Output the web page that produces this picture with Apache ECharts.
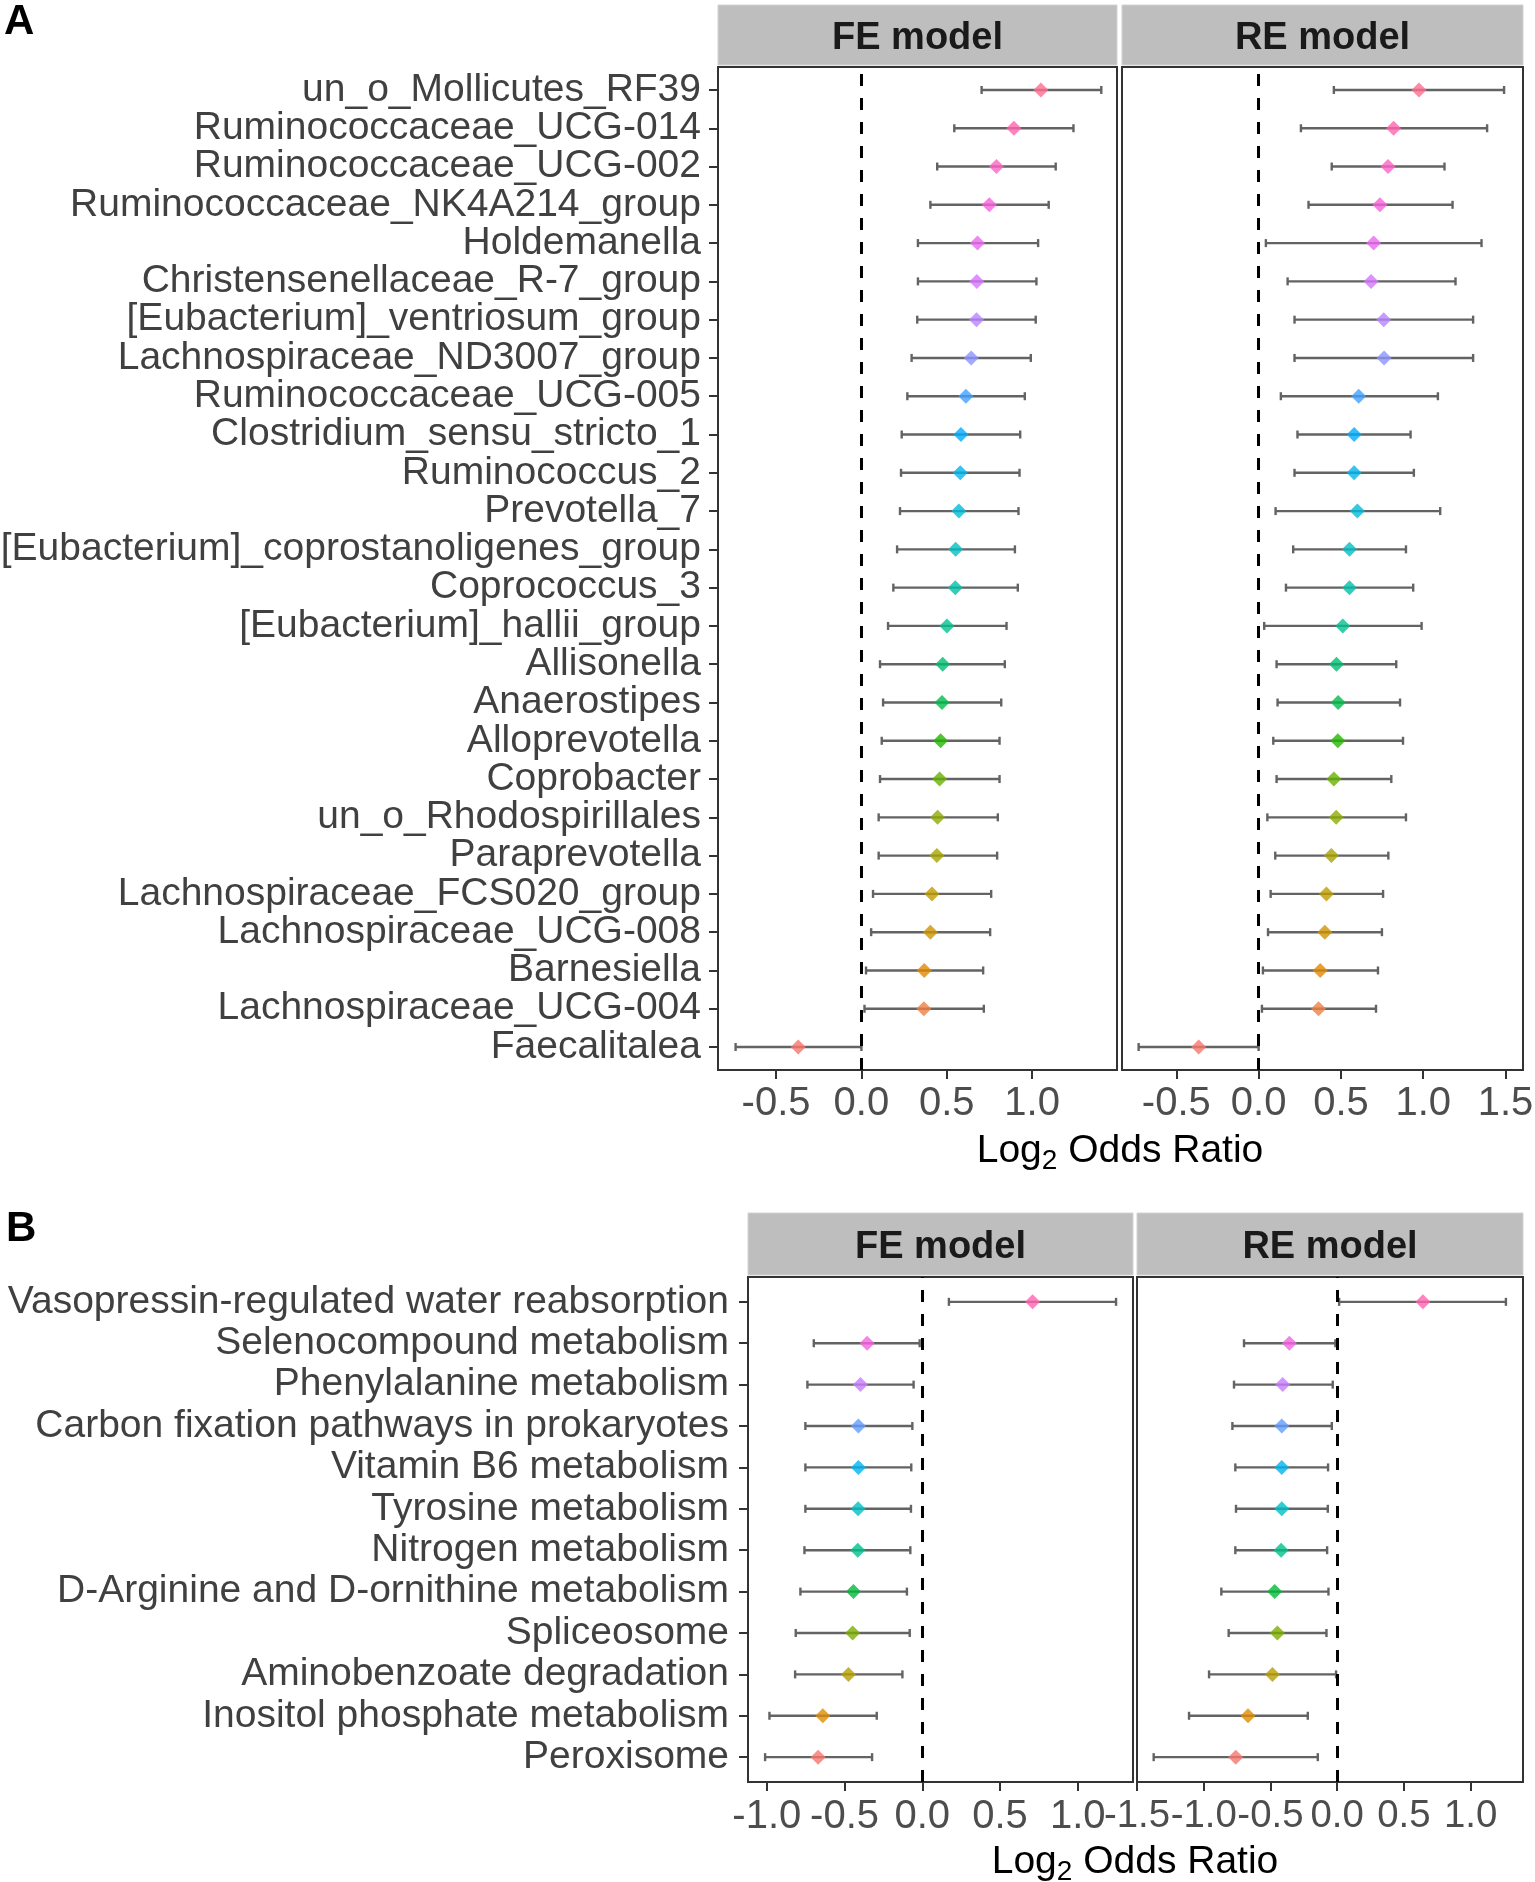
<!DOCTYPE html>
<html>
<head>
<meta charset="utf-8">
<script src="https://cdn.jsdelivr.net/npm/echarts@6/dist/echarts.min.js"></script>
<style>
html,body{margin:0;padding:0;background:#fff;}
#chart{width:1535px;height:1882px;}
</style>
</head>
<body>
<div id="chart"></div>
<script>
// ---------------- DATA ----------------
const taxaA = ["un_o_Mollicutes_RF39","Ruminococcaceae_UCG-014","Ruminococcaceae_UCG-002","Ruminococcaceae_NK4A214_group","Holdemanella","Christensenellaceae_R-7_group","[Eubacterium]_ventriosum_group","Lachnospiraceae_ND3007_group","Ruminococcaceae_UCG-005","Clostridium_sensu_stricto_1","Ruminococcus_2","Prevotella_7","[Eubacterium]_coprostanoligenes_group","Coprococcus_3","[Eubacterium]_hallii_group","Allisonella","Anaerostipes","Alloprevotella","Coprobacter","un_o_Rhodospirillales","Paraprevotella","Lachnospiraceae_FCS020_group","Lachnospiraceae_UCG-008","Barnesiella","Lachnospiraceae_UCG-004","Faecalitalea"];

const feA_est = [1.051,0.893,0.791,0.749,0.680,0.676,0.674,0.643,0.612,0.583,0.579,0.571,0.552,0.550,0.501,0.476,0.472,0.464,0.458,0.446,0.442,0.413,0.404,0.368,0.366,-0.370];
const feA_lo  = [0.704,0.544,0.444,0.404,0.331,0.331,0.327,0.294,0.269,0.236,0.232,0.226,0.209,0.187,0.156,0.109,0.127,0.119,0.109,0.101,0.101,0.068,0.057,0.027,0.018,-0.737];
const feA_hi  = [1.405,1.242,1.138,1.097,1.035,1.025,1.021,0.992,0.957,0.930,0.926,0.920,0.899,0.916,0.850,0.840,0.819,0.809,0.809,0.799,0.795,0.760,0.754,0.713,0.717,0.000];

const reA_est = [0.974,0.820,0.786,0.737,0.699,0.683,0.760,0.762,0.608,0.580,0.580,0.600,0.552,0.552,0.511,0.473,0.483,0.481,0.457,0.471,0.442,0.412,0.402,0.374,0.364,-0.364];
const reA_lo  = [0.457,0.257,0.444,0.303,0.044,0.176,0.218,0.218,0.135,0.236,0.218,0.103,0.210,0.166,0.034,0.109,0.115,0.089,0.109,0.053,0.101,0.073,0.057,0.026,0.020,-0.729];
const reA_hi  = [1.491,1.388,1.129,1.178,1.354,1.196,1.303,1.303,1.089,0.923,0.943,1.103,0.895,0.939,0.990,0.836,0.859,0.877,0.806,0.895,0.788,0.756,0.749,0.725,0.713,0.000];

const pathB = ["Vasopressin-regulated water reabsorption","Selenocompound metabolism","Phenylalanine metabolism","Carbon fixation pathways in prokaryotes","Vitamin B6 metabolism","Tyrosine metabolism","Nitrogen metabolism","D-Arginine and D-ornithine metabolism","Spliceosome","Aminobenzoate degradation","Inositol phosphate metabolism","Peroxisome"];

const feB_est = [0.709,-0.355,-0.398,-0.411,-0.411,-0.413,-0.415,-0.443,-0.448,-0.475,-0.640,-0.670];
const feB_lo  = [0.171,-0.698,-0.739,-0.752,-0.752,-0.752,-0.758,-0.784,-0.814,-0.818,-0.983,-1.011];
const feB_hi  = [1.246,-0.017,-0.056,-0.064,-0.071,-0.073,-0.077,-0.099,-0.081,-0.128,-0.293,-0.323];

const reB_est = [0.643,-0.358,-0.408,-0.415,-0.415,-0.415,-0.420,-0.468,-0.448,-0.485,-0.668,-0.760];
const reB_lo  = [0.015,-0.698,-0.773,-0.785,-0.763,-0.758,-0.763,-0.868,-0.813,-0.960,-1.110,-1.375];
const reB_hi  = [1.265,-0.013,-0.033,-0.040,-0.068,-0.070,-0.075,-0.065,-0.080,-0.008,-0.220,-0.145];

const ticksAFE = [-0.5, 0, 0.5, 1.0];
const ticksARE = [-0.5, 0, 0.5, 1.0, 1.5];
const ticksBFE = [-1.0, -0.5, 0, 0.5, 1.0];
const ticksBRE = [-1.5, -1.0, -0.5, 0, 0.5, 1.0];

const stripLabels = ["FE model", "RE model"];
const axisTitle = "Log2 Odds Ratio";

// ---------------- STYLE HELPERS ----------------
const FONT = "'Liberation Sans', Arial, Helvetica, sans-serif";

// ggplot2 default hue palette (hcl, c=100, l=65)
function hcl(h, c, l) {
  const hr = h * Math.PI / 180;
  const U = c * Math.cos(hr), V = c * Math.sin(hr);
  const Y = 100 * Math.pow((l + 16) / 116, 3);
  const Xn = 95.047, Yn = 100, Zn = 108.883;
  const t = Xn + 15 * Yn + 3 * Zn;
  const un = 4 * Xn / t, vn = 9 * Yn / t;
  const u = U / (13 * l) + un, v = V / (13 * l) + vn;
  const X = 9 * Y * u / (4 * v);
  const Z = -X / 3 - 5 * Y + 3 * Y / v;
  const lin = [
    (3.240479 * X - 1.537150 * Y - 0.498535 * Z) / 100,
    (-0.969256 * X + 1.875992 * Y + 0.041556 * Z) / 100,
    (0.055648 * X - 0.204043 * Y + 1.057311 * Z) / 100
  ];
  const g = lin.map(x => {
    let y = x > 0.00304 ? 1.055 * Math.pow(x, 1 / 2.4) - 0.055 : 12.92 * x;
    y = Math.max(0, Math.min(1, y));
    return Math.round(y * 255);
  });
  return 'rgb(' + g.join(',') + ')';
}
function huePal(n) {
  const out = [];
  for (let i = 0; i < n; i++) out.push(hcl(15 + 360 * i / n, 100, 65));
  return out;
}

const chart = echarts.init(document.getElementById('chart'), null, {renderer: 'canvas'});

const grids = [
  {left: 718, top: 67, width: 399, height: 1003},
  {left: 1122, top: 67, width: 401, height: 1003},
  {left: 748, top: 1277, width: 385, height: 505},
  {left: 1137, top: 1277, width: 386, height: 505}
];

const panels = [
  {names: taxaA, est: feA_est, lo: feA_lo, hi: feA_hi, min: -0.840, max: 1.497, ticks: ticksAFE, showY: true, xm: 14, ym: 17, xf: 40},
  {names: taxaA, est: reA_est, lo: reA_lo, hi: reA_hi, min: -0.830, max: 1.606, ticks: ticksARE, showY: false, xm: 14, ym: 17, xf: 40},
  {names: pathB, est: feB_est, lo: feB_lo, hi: feB_hi, min: -1.121, max: 1.355, ticks: ticksBFE, showY: true, xm: 15, ym: 19, xf: 40},
  {names: pathB, est: reB_est, lo: reB_lo, hi: reB_hi, min: -1.5, max: 1.393, ticks: ticksBRE, showY: false, xm: 15, ym: 19, xf: 38.4}
];

const axisLineStyle = {color: '#333', width: 2};
const xAxes = [], yAxes = [], series = [];

function yLabelStyle(p, show) {
  const n = p.names.length;
  return {show: show, formatter: v => p.names[n - Math.round(v)],
    showMinLabel: true, showMaxLabel: true,
    fontSize: 39, fontFamily: FONT, color: '#404040', margin: p.ym, hideOverlap: false};
}

panels.forEach((p, g) => {
  const n = p.names.length;
  const pal = huePal(n);              // level 1 = bottom row
  const yIdx = p.names.map((_, i) => n - i);
  xAxes.push({
    type: 'value', gridIndex: g, min: p.min, max: p.max, position: 'bottom',
    axisLine: {show: true, onZero: false, lineStyle: axisLineStyle},
    axisTick: {show: true, length: 9, customValues: p.ticks, lineStyle: axisLineStyle},
    axisLabel: {show: true, customValues: p.ticks, formatter: v => Number(v).toFixed(1),
      showMinLabel: true, showMaxLabel: true,
      fontSize: p.xf, fontFamily: FONT, color: '#4D4D4D', margin: p.xm, hideOverlap: false},
    splitLine: {show: false}
  });
  // main y axis: line, all ticks, labels for every other row
  const yi = yAxes.length;
  const evenRows = yIdx.filter((_, i) => i % 2 === 0);
  const oddRows = yIdx.filter((_, i) => i % 2 === 1);
  yAxes.push({
    type: 'value', gridIndex: g, min: 0.4, max: n + 0.6, position: 'left', offset: 0,
    axisLine: {show: true, onZero: false, lineStyle: axisLineStyle},
    axisTick: {show: p.showY, length: 9, customValues: yIdx, lineStyle: axisLineStyle},
    axisLabel: Object.assign(yLabelStyle(p, p.showY), {customValues: evenRows}),
    splitLine: {show: false}
  });
  if (p.showY) {
    // companion axis carrying the remaining row labels (same scale, same place)
    yAxes.push({
      type: 'value', gridIndex: g, min: 0.4, max: n + 0.6, position: 'left', offset: 0,
      axisLine: {show: false, onZero: false}, axisTick: {show: false},
      axisLabel: Object.assign(yLabelStyle(p, true), {customValues: oddRows}),
      splitLine: {show: false}
    });
  }
  // error bars
  series.push({
    type: 'custom', xAxisIndex: g, yAxisIndex: yi, z: 2,
    data: p.names.map((_, i) => [p.lo[i], p.hi[i], n - i]),
    encode: {x: [0, 1], y: 2},
    renderItem: (params, api) => {
      const a = api.coord([api.value(0), api.value(2)]);
      const b = api.coord([api.value(1), api.value(2)]);
      const h = 4;
      const st = {stroke: '#636363', lineWidth: 2.4};
      return {type: 'group', children: [
        {type: 'line', shape: {x1: a[0], y1: a[1], x2: b[0], y2: b[1]}, style: st},
        {type: 'line', shape: {x1: a[0], y1: a[1] - h, x2: a[0], y2: a[1] + h}, style: st},
        {type: 'line', shape: {x1: b[0], y1: b[1] - h, x2: b[0], y2: b[1] + h}, style: st}
      ]};
    },
    markLine: {
      silent: true, symbol: ['none', 'none'], animation: false,
      label: {show: false},
      lineStyle: {type: [12, 12], width: 3, color: '#000'},
      data: [{xAxis: 0}]
    }
  });
  // point estimates
  series.push({
    type: 'scatter', xAxisIndex: g, yAxisIndex: yi, z: 3,
    symbol: 'diamond', symbolSize: 15,
    data: p.names.map((_, i) => ({value: [p.est[i], n - i], itemStyle: {color: pal[n - i - 1]}}))
  });
});

const graphic = [];
// panel letters
graphic.push({type: 'text', x: 4, y: 22, style: {text: 'A', fontSize: 42, fontWeight: 'bold', fontFamily: FONT, fill: '#000', verticalAlign: 'middle'}});
graphic.push({type: 'text', x: 6, y: 1229, style: {text: 'B', fontSize: 42, fontWeight: 'bold', fontFamily: FONT, fill: '#000', verticalAlign: 'middle'}});
// strips
const stripY = [[5, 60], [5, 60], [1213, 62], [1213, 62]];
grids.forEach((gr, g) => {
  graphic.push({type: 'rect', shape: {x: gr.left, y: stripY[g][0], width: gr.width, height: stripY[g][1]},
    style: {fill: '#BEBEBE', stroke: '#D2D2D2', lineWidth: 1}, z: 0});
  graphic.push({type: 'text', x: gr.left + gr.width / 2, y: stripY[g][0] + stripY[g][1] / 2 + 4,
    style: {text: stripLabels[g % 2], fontSize: 38, fontWeight: 'bold', fontFamily: FONT, fill: '#1A1A1A',
      align: 'center', verticalAlign: 'middle'}, z: 1});
});
// axis titles with subscript
const titleRich = '{a|' + axisTitle.slice(0, 3) + '}{b|' + axisTitle.slice(3, 4) + '}{a|' + axisTitle.slice(4) + '}';
[[1120, 1151], [1135, 1862]].forEach(pos => {
  graphic.push({type: 'text', x: pos[0], y: pos[1], style: {
    text: titleRich, align: 'center', verticalAlign: 'middle',
    rich: {
      a: {fontSize: 39, fontFamily: FONT, fill: '#000', lineHeight: 40, verticalAlign: 'middle'},
      b: {fontSize: 28, fontFamily: FONT, fill: '#000', lineHeight: 48, verticalAlign: 'bottom'}
    }
  }});
});

chart.setOption({
  animation: false,
  backgroundColor: '#fff',
  grid: grids.map(gr => Object.assign({show: true, borderColor: '#333', borderWidth: 2, backgroundColor: '#fff',
    containLabel: false, outerBoundsMode: 'none'}, gr)),
  xAxis: xAxes,
  yAxis: yAxes,
  series: series,
  graphic: graphic
});
</script>
</body>
</html>
